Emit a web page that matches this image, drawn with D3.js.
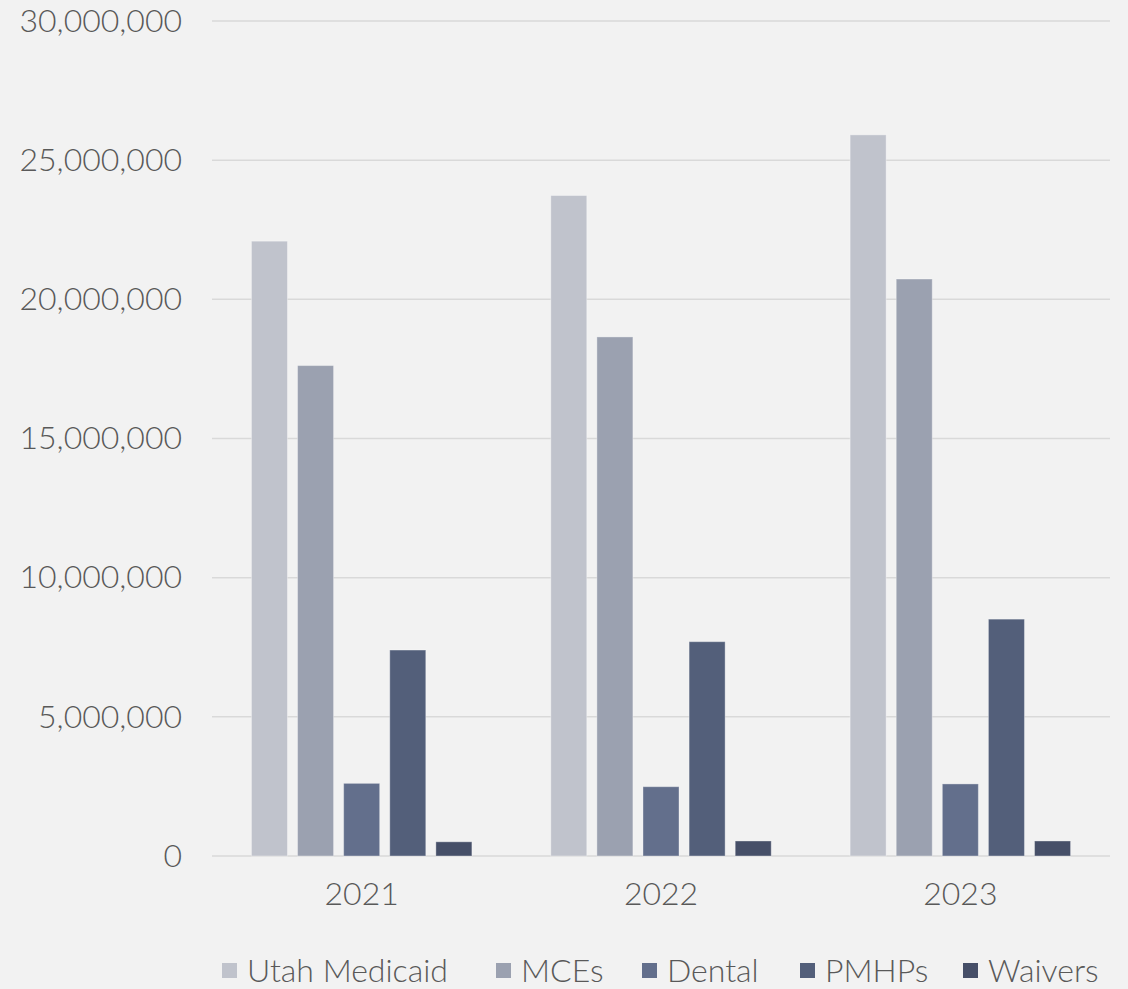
<!DOCTYPE html>
<html>
<head>
<meta charset="utf-8">
<script src="https://cdn.jsdelivr.net/npm/d3@7"></script>
<style>
  html, body { margin: 0; padding: 0; background: #f2f2f2; }
  svg text { font-family: Lato, "Open Sans", sans-serif; font-weight: 300; fill: #595959; }
</style>
</head>
<body>
<div id="chart"></div>
<script>
// chart data
const years = ['2021', '2022', '2023'];
const seriesNames = ['Utah Medicaid', 'MCEs', 'Dental', 'PMHPs', 'Waivers'];
const utahMedicaid = [22090000, 23730000, 25910000];
const mces = [17620000, 18650000, 20730000];
const dental = [2610000, 2490000, 2590000];
const pmhps = [7400000, 7700000, 8510000];
const waivers = [510000, 540000, 540000];
const yTicks = [0, 5000000, 10000000, 15000000, 20000000, 25000000, 30000000];

const colors = ['#c0c3cc', '#9ba1b0', '#636f8c', '#535f7a', '#464f68'];
const seriesValues = [utahMedicaid, mces, dental, pmhps, waivers];

// table for the grouped bars
const data = years.map((yr, i) => {
  let row = {year: yr};
  seriesNames.forEach((s, j) => { row[s] = seriesValues[j][i]; });
  return row;
});

const W = 1128, H = 989;
const margin = {top: 21, right: 18, bottom: 133, left: 212};
const width = W - margin.left - margin.right,
      height = H - margin.top - margin.bottom;
const fontSize = '32px';

const svg = d3.select('#chart').append('svg')
    .attr('width', W)
    .attr('height', H);

svg.append('rect').attr('width', W).attr('height', H).attr('fill', '#f2f2f2');

const g = svg.append('g')
    .attr('transform', `translate(${margin.left},${margin.top})`);

const y = d3.scaleLinear()
    .domain([0, 30000000])
    .range([height, 0]);

const x0 = d3.scaleBand()
    .domain(years)
    .range([0, width])
    .padding(0);

// excel-like gap width / overlap
const gapWidth = 2.19, overlap = -0.28;
const barW = x0.bandwidth() / (seriesNames.length - overlap * (seriesNames.length - 1) + gapWidth);
const groupW = barW * seriesNames.length - overlap * barW * (seriesNames.length - 1);
const x1 = d3.scaleBand()
    .domain(seriesNames)
    .range([(x0.bandwidth() - groupW) / 2, (x0.bandwidth() + groupW) / 2])
    .paddingInner(-overlap * barW / (barW - overlap * barW))
    .paddingOuter(0);

const color = d3.scaleOrdinal().domain(seriesNames).range(colors);

// gridlines
g.append('g')
  .selectAll('line')
  .data(yTicks)
  .join('line')
    .attr('x1', 0)
    .attr('x2', width)
    .attr('y1', d => y(d))
    .attr('y2', d => y(d))
    .attr('stroke', '#d9d9d9')
    .attr('stroke-width', 1.5);

// y axis labels
const yAxis = g.append('g')
  .call(d3.axisLeft(y).tickValues(yTicks).tickFormat(d3.format(',')).tickSize(0).tickPadding(30));
yAxis.select('.domain').remove();
yAxis.selectAll('text')
  .style('font-size', fontSize)
  .attr('fill', '#595959');

// bars
g.append('g')
  .selectAll('g')
  .data(data)
  .join('g')
    .attr('transform', d => `translate(${x0(d.year)},0)`)
  .selectAll('rect')
  .data(d => seriesNames.map(s => ({key: s, value: d[s]})))
  .join('rect')
    .attr('x', d => x1(d.key))
    .attr('y', d => y(d.value))
    .attr('width', x1.bandwidth())
    .attr('height', d => y(0) - y(d.value))
    .attr('fill', d => color(d.key))
    .attr('stroke', 'rgba(255,255,255,0.35)')
    .attr('stroke-width', 1);

// x axis labels
const xAxis = g.append('g')
  .attr('transform', `translate(0,${height})`)
  .call(d3.axisBottom(x0).tickSize(0).tickPadding(26));
xAxis.select('.domain').remove();
xAxis.selectAll('text')
  .style('font-size', fontSize)
  .attr('fill', '#595959');

// legend
const legendX = [222, 496, 642, 800, 963];
const legend = svg.append('g')
  .selectAll('g')
  .data(seriesNames)
  .join('g')
    .attr('transform', (d, i) => `translate(${legendX[i]},${963})`);

legend.append('rect')
    .attr('width', 15)
    .attr('height', 15)
    .attr('fill', d => color(d));

legend.append('text')
    .attr('x', 25)
    .attr('y', 19)
    .style('font-size', fontSize)
    .text(d => d);
</script>
</body>
</html>
